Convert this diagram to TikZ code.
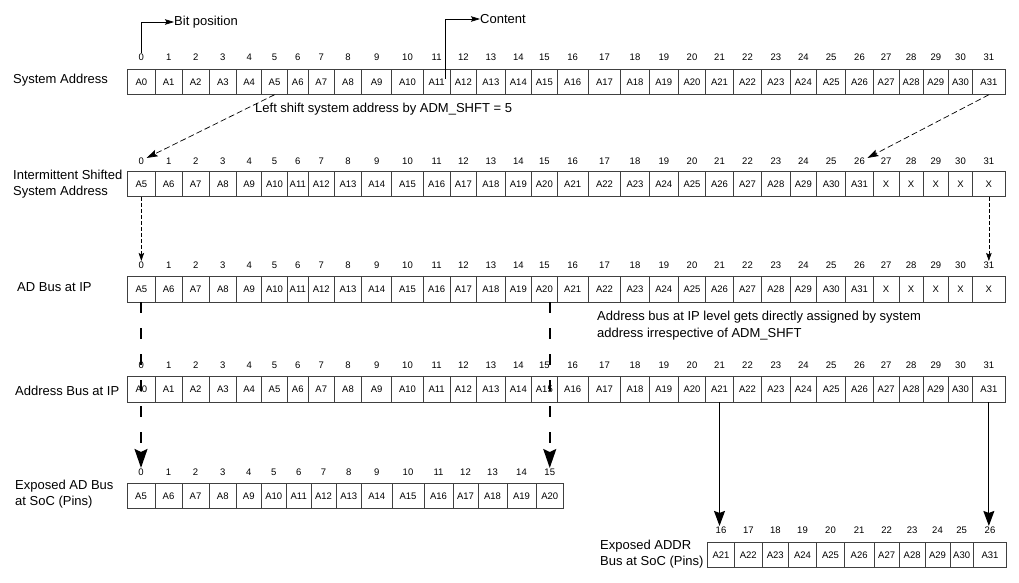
\documentclass[tikz,border=0pt]{standalone}
\usepackage{fontspec}
\setmainfont{Liberation Sans}
\usetikzlibrary{arrows.meta}
\begin{document}
\begin{tikzpicture}[x=1pt,y=-1pt,
  cell/.style={draw=black!75, line width=0.6pt, inner sep=0pt, outer sep=0pt,
    font=\fontsize{9.5}{11}\selectfont, minimum height=25.5pt, anchor=center},
  bitno/.style={inner sep=0.5pt, font=\fontsize{9.5}{11}\selectfont},
  rowlabel/.style={anchor=west, align=left, inner sep=0pt, font=\fontsize{13}{16}\selectfont},
  note/.style={anchor=west, align=left, inner sep=0pt, font=\fontsize{13}{17}\selectfont},
  pointer/.style={line width=0.7pt, -{Stealth[length=9pt,width=5.5pt,inset=1.5pt]}},
  shiftarrow/.style={line width=0.7pt, dash pattern=on 6pt off 3pt, -{Stealth[length=11pt,width=7pt,inset=2pt]}},
  copyarrow/.style={line width=0.6pt, dash pattern=on 4pt off 2pt, -{Stealth[length=8pt,width=5.5pt,inset=1.5pt]}},
  pinarrow/.style={line width=1.5pt, dash pattern=on 11pt off 15pt, -{Stealth[length=19pt,width=13pt,inset=3pt]}},
  directarrow/.style={line width=1.2pt, -{Stealth[length=15pt,width=11pt,inset=2pt]}}
]
\useasboundingbox (0,0) rectangle (1019,583);
\def\bnd{{127.7,155,182.3,209,236.7,261.7,287.3,308.3,334.3,361.7,391.7,423.3,450,476.7,505,531.7,557,588.3,620.7,649.3,678.3,705.7,733.3,761.7,790,816.7,845.7,873.3,899,923.3,948.3,972.7,1005}}
\def\bndfive{{127,155,182,209,236.5,261,286.5,311,336,361.5,392,424,453,478,507,536,563.5}}
\def\bndsix{{707.7,734.3,762.3,788.3,816.7,844.3,874,899.3,925,950,973.3,1006.7}}

% Row 1: System Address
\foreach \i in {0,...,31}{
  \pgfmathsetmacro\xa{\bnd[\i]}
  \pgfmathsetmacro\xb{\bnd[\i+1]}
  \pgfmathsetmacro\xc{(\xa+\xb)/2}
  \pgfmathsetmacro\w{\xb-\xa}
  \node[cell, minimum width=\w pt] (r1c\i) at (\xc,82) {A\i};
  \node[bitno] (r1n\i) at (\xc,57) {\i};
}
% Row 2: Intermittent shifted
\foreach \i in {0,...,31}{
  \pgfmathsetmacro\xa{\bnd[\i]}
  \pgfmathsetmacro\xb{\bnd[\i+1]}
  \pgfmathsetmacro\xc{(\xa+\xb)/2}
  \pgfmathsetmacro\w{\xb-\xa}
  \pgfmathtruncatemacro\k{\i+5}
  \node[cell, minimum width=\w pt] (r2c\i) at (\xc,184) {\ifnum\i<27 A\k\else X\fi};
  \node[bitno] (r2n\i) at (\xc,161) {\i};
}
% Row 3: AD Bus at IP
\foreach \i in {0,...,31}{
  \pgfmathsetmacro\xa{\bnd[\i]}
  \pgfmathsetmacro\xb{\bnd[\i+1]}
  \pgfmathsetmacro\xc{(\xa+\xb)/2}
  \pgfmathsetmacro\w{\xb-\xa}
  \pgfmathtruncatemacro\k{\i+5}
  \node[cell, minimum width=\w pt] (r3c\i) at (\xc,289.5) {\ifnum\i<27 A\k\else X\fi};
  \node[bitno] (r3n\i) at (\xc,265) {\i};
}
% Row 4: Address Bus at IP
\foreach \i in {0,...,31}{
  \pgfmathsetmacro\xa{\bnd[\i]}
  \pgfmathsetmacro\xb{\bnd[\i+1]}
  \pgfmathsetmacro\xc{(\xa+\xb)/2}
  \pgfmathsetmacro\w{\xb-\xa}
  \node[cell, minimum width=\w pt] (r4c\i) at (\xc,389.5) {A\i};
  \node[bitno] (r4n\i) at (\xc,365) {\i};
}
% Row 5: Exposed AD Bus at SoC
\foreach \i in {0,...,15}{
  \pgfmathsetmacro\xa{\bndfive[\i]}
  \pgfmathsetmacro\xb{\bndfive[\i+1]}
  \pgfmathsetmacro\xc{(\xa+\xb)/2}
  \pgfmathsetmacro\w{\xb-\xa}
  \pgfmathtruncatemacro\k{\i+5}
  \node[cell, minimum width=\w pt] (r5c\i) at (\xc,496) {A\k};
  \node[bitno] (r5n\i) at (\xc,472) {\i};
}
% Row 6: Exposed ADDR Bus at SoC
\foreach \i in {0,...,10}{
  \pgfmathsetmacro\xa{\bndsix[\i]}
  \pgfmathsetmacro\xb{\bndsix[\i+1]}
  \pgfmathsetmacro\xc{(\xa+\xb)/2}
  \pgfmathsetmacro\w{\xb-\xa}
  \pgfmathtruncatemacro\k{\i+21}
  \pgfmathtruncatemacro\b{\i+16}
  \node[cell, minimum width=\w pt] (r6c\i) at (\xc,555) {A\k};
  \node[bitno] (r6n\i) at (\xc,530) {\b};
}

% Row labels
\node[rowlabel] (l1) at (13,80) {System Address};
\node[rowlabel] (l2) at (13,184) {Intermittent Shifted\\System Address};
\node[rowlabel] (l3) at (17,287) {AD Bus at IP};
\node[rowlabel] (l4) at (15,391) {Address Bus at IP};
\node[rowlabel] (l5) at (15,494) {Exposed AD Bus\\at SoC (Pins)};
\node[rowlabel] (l6) at (600,554) {Exposed ADDR\\Bus at SoC (Pins)};

% Notes
\node[note] (bitpos) at (174,22) {Bit position};
\node[note] (content) at (480,19) {Content};
\node[note] (shiftnote) at (255,109) {Left shift system address by ADM\_SHFT = 5};
\node[note] (ipnote) at (597,326) {Address bus at IP level gets directly assigned by system\\address irrespective of ADM\_SHFT};

% Legend pointers
\coordinate (cst) at (445,79);
\draw[pointer] (r1n0.north) |- (bitpos.west);
\draw[pointer] (cst) |- (content.west);

% Shift arrows
\draw[shiftarrow] (r1c5.south) -- ([xshift=2pt,yshift=-1pt]r2n0.north east);
\draw[shiftarrow] (r1c31.south) -- ([xshift=2pt,yshift=-1pt]r2n26.north east);

% Copy arrows
\draw[copyarrow] (r2c0.south) -- (r3n0.north);
\draw[copyarrow] (r2c31.south) -- (r3n31.north);

% Pin arrows
\draw[pinarrow] (r3c0.south -| r5n0.north) -- (r5n0.north);
\draw[pinarrow] (r3c15.south -| r5n15.north) -- (r5n15.north);

% Direct arrows
\draw[directarrow] (r4c21.south) -- (r4c21.south |- r6n0.north);
\draw[directarrow] (r4c31.south) -- (r4c31.south |- r6n10.north);
\end{tikzpicture}
\end{document}
